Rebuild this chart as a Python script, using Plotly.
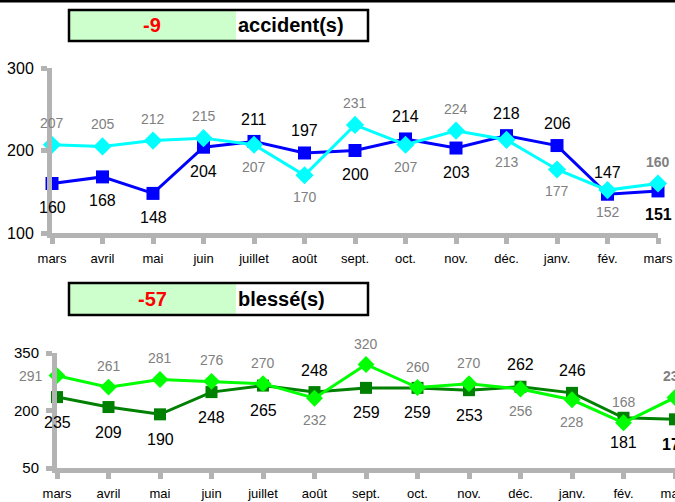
import plotly.graph_objects as go

months = ["mars", "avril", "mai", "juin", "juillet", "août", "sept.", "oct.",
          "nov.", "déc.", "janv.", "fév.", "mars"]
acc_current = [160, 168, 148, 204, 211, 197, 200, 214, 203, 218, 206, 147, 151]
acc_previous = [207, 205, 212, 215, 207, 170, 231, 207, 224, 213, 177, 152, 160]
bl_current = [235, 209, 190, 248, 265, 248, 259, 259, 253, 262, 246, 181, 177]
bl_previous = [291, 261, 281, 276, 270, 232, 320, 260, 270, 256, 228, 168, 234]

acc_delta = acc_current[-1] - acc_previous[-1]
bl_delta = bl_current[-1] - bl_previous[-1]

# label placement (style): a = above, b = below, l = left
acc_cur_pos = list("bbbbaababaaab")
acc_prev_pos = list("aaaabbababbba")
bl_cur_pos = list("bbbbbabbbaabb")
bl_prev_pos = list("laaaabaaabbaa")

FONT = "Liberation Sans, Arial, sans-serif"
AXC = "#b3b3b3"
xs = list(range(len(months)))

fig = go.Figure()


def add_series(vals, xa, ya, color, symbol, size):
    fig.add_trace(go.Scatter(
        x=xs, y=vals, xaxis=xa, yaxis=ya, mode="lines+markers",
        line=dict(color=color, width=3),
        marker=dict(symbol=symbol, size=size, color=color),
        cliponaxis=False, showlegend=False, hoverinfo="skip"))


add_series(acc_current, "x", "y", "#0000ff", "square", 13)
add_series(acc_previous, "x", "y", "#00ffff", "diamond", 14)
add_series(bl_current, "x2", "y2", "#008000", "square", 12)
add_series(bl_previous, "x2", "y2", "#00ff00", "diamond", 13)

annotations = []


def add_labels(vals, pos, xr, yr, color, size, up, down):
    n = len(vals)
    for i, (v, p) in enumerate(zip(vals, pos)):
        a = dict(x=xs[i], y=v, xref=xr, yref=yr, text=str(v), showarrow=False,
                 font=dict(family=FONT, size=size, color=color))
        if i == n - 1:
            a["text"] = "<b>%d</b>" % v
        if p == "a":
            a["yshift"] = up
        elif p == "b":
            a["yshift"] = down
        else:
            a["xshift"] = -26
        annotations.append(a)


add_labels(acc_current, acc_cur_pos, "x", "y", "#000000", 16, 22, -24)
add_labels(acc_previous, acc_prev_pos, "x", "y", "#808080", 14, 22, -22)
add_labels(bl_current, bl_cur_pos, "x2", "y2", "#000000", 16, 22, -25)
add_labels(bl_previous, bl_prev_pos, "x2", "y2", "#808080", 14, 21, -22)

W, H = 675, 502


def px(x):
    return x / W


def py(y):
    return 1 - y / H


shapes = [
    dict(type="line", xref="paper", yref="paper", x0=0, x1=1, y0=py(1.2), y1=py(1.2),
         line=dict(color="black", width=2.5)),
]
for top, bot, delta, word in [(10, 41, acc_delta, "accident(s)"), (283, 315, bl_delta, "blessé(s)")]:
    shapes.append(dict(type="rect", xref="paper", yref="paper", x0=px(69), x1=px(236),
                       y0=py(bot), y1=py(top), fillcolor="#ccffcc", line=dict(width=0), layer="below"))
    shapes.append(dict(type="rect", xref="paper", yref="paper", x0=px(69), x1=px(368),
                       y0=py(bot), y1=py(top), fillcolor="rgba(0,0,0,0)",
                       line=dict(color="black", width=2.5)))
    annotations.append(dict(xref="paper", yref="paper", x=px(152), y=py((top + bot) / 2),
                            text="<b>%d</b>" % delta, showarrow=False, xanchor="center", yanchor="middle",
                            font=dict(family=FONT, size=20, color="#ff0000")))
    annotations.append(dict(xref="paper", yref="paper", x=px(236), y=py((top + bot) / 2),
                            text="<b>%s</b>" % word, showarrow=False, xanchor="left", yanchor="middle",
                            font=dict(family=FONT, size=20, color="#000000")))

common_x = dict(range=[0, 12], tickmode="array", tickvals=xs, ticktext=months,
                showline=True, linecolor=AXC, linewidth=5, ticks="outside", ticklen=6,
                tickwidth=5, tickcolor=AXC, showgrid=False, zeroline=False, automargin=False,
                tickfont=dict(family=FONT, size=13, color="black"), ticklabelstandoff=3,
                ticklabeloverflow="allow", fixedrange=True)
common_y = dict(showline=True, linecolor=AXC, linewidth=5, ticks="outside", ticklen=6,
                tickwidth=5, tickcolor=AXC, showgrid=False, zeroline=False, automargin=False,
                ticklabelstandoff=4, ticklabeloverflow="allow", fixedrange=True)

fig.update_layout(
    template="none",
    width=W, height=H, margin=dict(l=0, r=0, t=0, b=0, pad=0, autoexpand=False),
    paper_bgcolor="white", plot_bgcolor="white",
    xaxis=dict(domain=[px(52), px(658)], anchor="y", **common_x),
    yaxis=dict(domain=[py(233), py(68)], anchor="x", range=[100, 300],
               tickvals=[100, 200, 300], tickfont=dict(family=FONT, size=16, color="black"),
               **common_y),
    xaxis2=dict(domain=[px(57), 1], anchor="y2", **common_x),
    yaxis2=dict(domain=[py(468), py(353)], anchor="x2", range=[50, 350],
                tickvals=[50, 200, 350], tickfont=dict(family=FONT, size=15, color="black"),
                **common_y),
    shapes=shapes, annotations=annotations,
)

fig.write_html("out.html", config={"displayModeBar": False},
               post_script="document.body.style.margin='0';document.body.style.overflow='hidden';")
